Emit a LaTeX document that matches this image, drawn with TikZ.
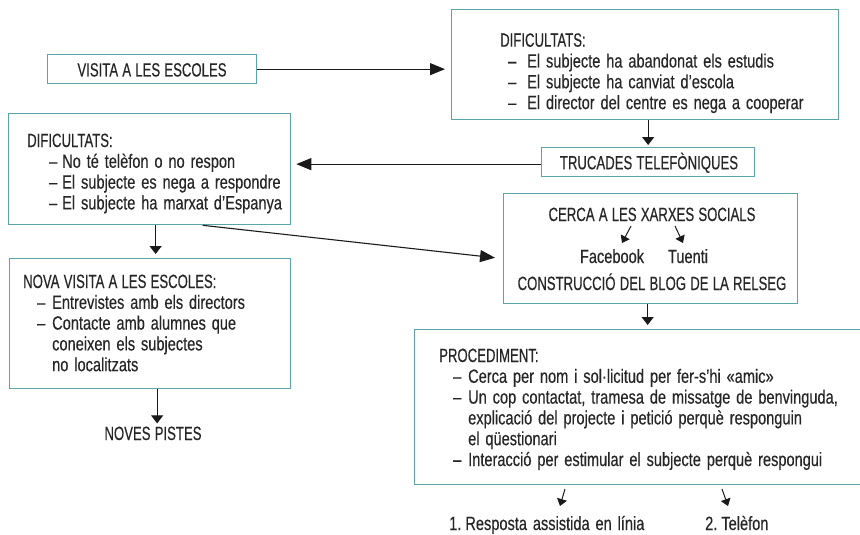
\documentclass[tikz,border=0pt]{standalone}
\usepackage{fontspec}
\setmainfont{Liberation Sans}[FakeStretch=0.76,WordSpace=1.45,FakeBold=0.3]
\newfontfamily\capsfont{Liberation Sans}[FakeStretch=0.685,WordSpace=1.15,FakeBold=0.3]
\usetikzlibrary{arrows.meta}
\definecolor{boxc}{HTML}{5BA4A9}
\definecolor{txtc}{HTML}{262626}
\definecolor{arrc}{HTML}{1A1A1A}
\begin{document}
\begin{tikzpicture}[x=1pt,y=-1pt,
 box/.style={draw=boxc, line width=1.3pt, rectangle, inner sep=0pt, anchor=north west},
 txt/.style={text=txtc, inner sep=0pt, font=\fontsize{19.2}{20.8}\selectfont},
 capstxt/.style={txt, font=\fontsize{19.2}{20.8}\selectfont\capsfont},
 bigarr/.style={draw=arrc, line width=1.1pt, -{Triangle[length=15pt,width=12pt]}},
 downarr/.style={draw=arrc, line width=1.1pt, -{Triangle[length=8pt,width=12pt]}},
 smallarr/.style={draw=arrc, line width=1pt, -{Triangle[length=7pt,width=10pt]}}
]
\useasboundingbox (0,0) rectangle (860,535);
\fill[white] (0,0) rectangle (860,535);
\clip (0,0) rectangle (860,535);
% boxes
\node[box, minimum width=209pt, minimum height=29pt] (visit) at (47,54) {};
\node[box, minimum width=387pt, minimum height=110pt] (dif1) at (451,9) {};
\node[box, minimum width=213pt, minimum height=29pt] (truc) at (541,147) {};
\node[box, minimum width=282pt, minimum height=111pt] (dif2) at (8,113) {};
\node[box, minimum width=294pt, minimum height=110pt] (cerca) at (503,193) {};
\node[box, minimum width=281pt, minimum height=130pt] (nova) at (9,258) {};
\node[box, minimum width=461pt, minimum height=155pt] (proc) at (414,329) {};
% texts
\node[capstxt, anchor=base] (visitt) at (152,76.5) {VISITA A LES ESCOLES};
\node[capstxt, anchor=base] (truct) at (649,169.3) {TRUCADES TELEFÒNIQUES};
\node[txt, anchor=base west] (dif1t) at (500,46.7) {\begin{tabular}[t]{@{}p{27pt}@{}l@{}}
\multicolumn{2}{@{}l@{}}{\capsfont DIFICULTATS:}\\
\hspace*{8pt}–& El subjecte ha abandonat els estudis\\
\hspace*{8pt}–& El subjecte ha canviat d’escola\\
\hspace*{8pt}–& El director del centre es nega a cooperar
\end{tabular}};
\node[txt, anchor=base west] (dif2t) at (27,147) {\begin{tabular}[t]{@{}p{35pt}@{}l@{}}
\multicolumn{2}{@{}l@{}}{\capsfont DIFICULTATS:}\\
\hspace*{22pt}–& No té telèfon o no respon\\
\hspace*{22pt}–& El subjecte es nega a respondre\\
\hspace*{22pt}–& El subjecte ha marxat d’Espanya
\end{tabular}};
\node[txt, anchor=base west] (novat) at (23,288) {\begin{tabular}[t]{@{}p{29pt}@{}l@{}}
\multicolumn{2}{@{}l@{}}{\capsfont NOVA VISITA A LES ESCOLES:}\\
\hspace*{14pt}–& Entrevistes amb els directors\\
\hspace*{14pt}–& Contacte amb alumnes que\\
& coneixen els subjectes\\
& no localitzats
\end{tabular}};
\node[txt, anchor=base west] (proct) at (439,362) {\begin{tabular}[t]{@{}p{29pt}@{}l@{}}
\multicolumn{2}{@{}l@{}}{\capsfont PROCEDIMENT:}\\
\hspace*{14pt}–& Cerca per nom i sol·licitud per fer-s’hi «amic»\\
\hspace*{14pt}–& Un cop contactat, tramesa de missatge de benvinguda,\\
& explicació del projecte i petició perquè responguin\\
& el qüestionari\\
\hspace*{14pt}–& Interacció per estimular el subjecte perquè respongui
\end{tabular}};
\node[capstxt, anchor=base] (cercat) at (652,221) {CERCA A LES XARXES SOCIALS};
\node[txt, anchor=base] (fb) at (612,263) {Facebook};
\node[txt, anchor=base] (tu) at (688,263) {Tuenti};
\node[capstxt, anchor=base] (blog) at (652,290) {CONSTRUCCIÓ DEL BLOG DE LA RELSEG};
\node[capstxt, anchor=base] (noves) at (153,440) {NOVES PISTES};
\node[txt, anchor=base west] (res1) at (449,530) {1.\hspace{4pt}Resposta assistida en línia};
\node[txt, anchor=base west] (res2) at (705,530) {2.\hspace{4pt}Telèfon};
% connectors
\draw[bigarr, shorten >=6pt] (visit.east) -- (dif1.west |- visit.east);
\draw[downarr, shorten >=2pt] (truc.north |- dif1.south) -- (truc.north);
\draw[bigarr, shorten >=5pt] ([yshift=-2pt]truc.west) -- ([yshift=-2pt]dif2.east |- truc.west);
\draw[downarr, shorten >=4pt] ([xshift=6pt]dif2.south) -- ([xshift=6pt]dif2.south |- nova.north);
\draw[bigarr, shorten >=8pt] ([xshift=53pt]dif2.south) -- ([yshift=-10pt]cerca.west);
\draw[downarr, shorten >=4pt] ([xshift=-3pt]cerca.south) -- ([xshift=-3pt]cerca.south |- proc.north);
\draw[downarr, shorten >=3pt] ([xshift=7pt]nova.south) -- ([xshift=7pt]nova.south |- noves.north);
\coordinate (fa) at (631,226); \coordinate (fb2) at (622,243);
\coordinate (ta) at (675,226); \coordinate (tb2) at (683,243);
\draw[smallarr] (fa) -- (fb2);
\draw[smallarr] (ta) -- (tb2);
\coordinate (ra) at (565,489); \coordinate (rb) at (560,506);
\coordinate (sa) at (722,489); \coordinate (sb) at (728,506);
\draw[smallarr] (ra) -- (rb);
\draw[smallarr] (sa) -- (sb);
\end{tikzpicture}
\end{document}
